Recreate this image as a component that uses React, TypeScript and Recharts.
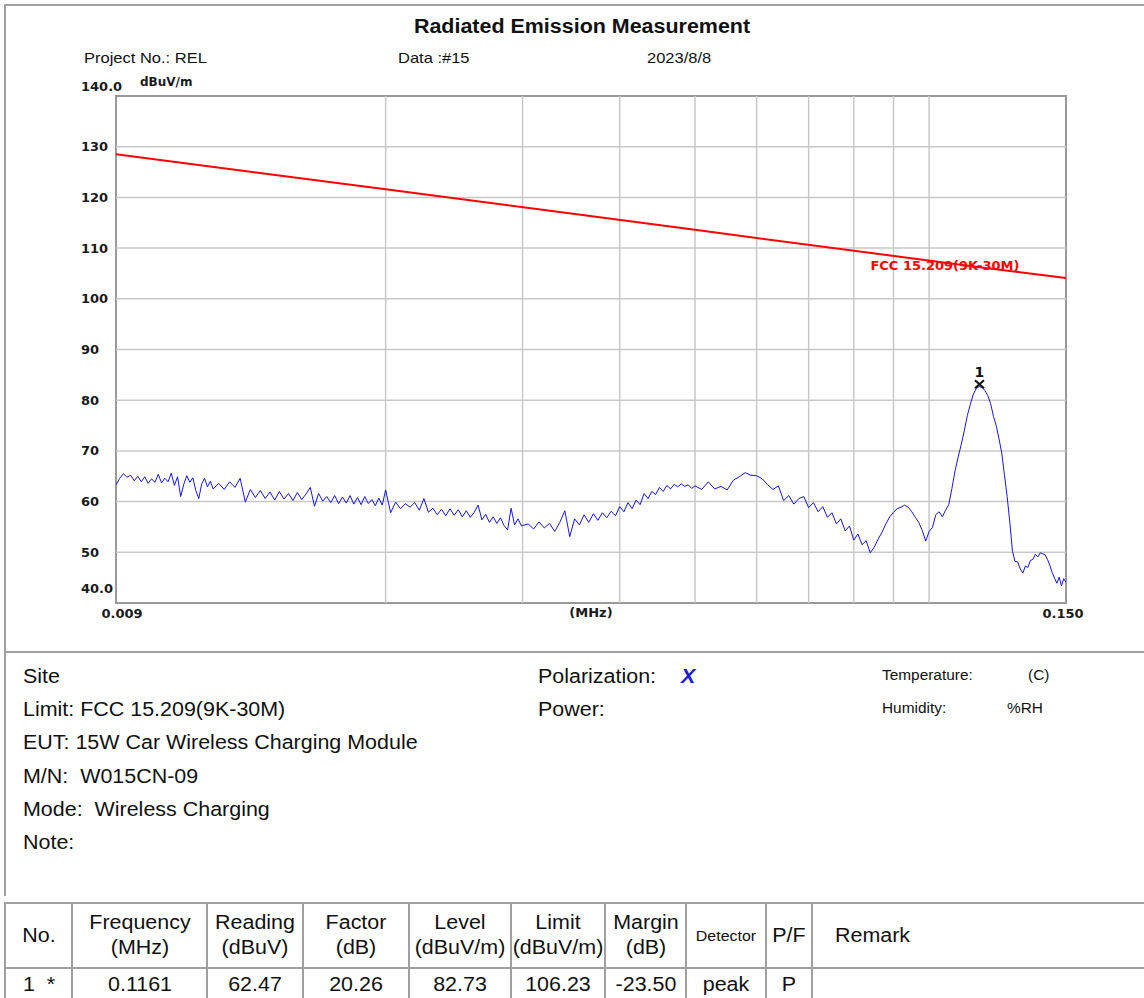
import React from 'react';
import {
  ComposedChart,
  Line,
  Scatter,
  XAxis,
  YAxis,
  ReferenceLine,
  ReferenceArea,
  ReferenceDot,
  Label,
} from 'recharts';

// sweep readings [MHz, dBuV/m]
const trace9to12k = [
  [0.009, 63.3], [0.0091, 64.6], [0.0092, 65.5], [0.0093, 64.8], [0.0094, 65.2], [0.0095, 64.1],
  [0.0096, 65.0], [0.0097, 63.9], [0.0098, 64.9], [0.0099, 63.6], [0.01, 64.5], [0.0101, 63.8],
  [0.0102, 65.4], [0.0103, 63.7], [0.0104, 64.6], [0.0105, 63.9], [0.0106, 65.6], [0.0107, 63.2],
  [0.0108, 64.9], [0.0109, 61.0], [0.011, 63.4], [0.0111, 65.1], [0.0112, 63.8], [0.0113, 64.7],
  [0.0114, 62.2], [0.0115, 60.6], [0.0116, 63.5], [0.0117, 64.6], [0.0118, 62.9], [0.0119, 64.0],
  [0.012, 62.5],
];

const trace12to20k = [
  [0.0122, 63.6], [0.0124, 62.4], [0.0126, 63.9], [0.0128, 62.8], [0.013, 64.6], [0.0132, 59.9],
  [0.0134, 62.4], [0.0136, 60.8], [0.0138, 62.2], [0.014, 60.6], [0.0142, 61.9], [0.0144, 60.3],
  [0.0146, 62.0], [0.0148, 60.5], [0.015, 61.6], [0.0152, 60.2], [0.0154, 61.8], [0.0156, 60.4],
  [0.0158, 61.5], [0.016, 62.8], [0.0162, 59.1], [0.0164, 61.6], [0.0166, 60.1], [0.0168, 61.0],
  [0.017, 59.8], [0.0172, 61.2], [0.0174, 59.6], [0.0176, 60.9], [0.0178, 59.7], [0.018, 61.2],
  [0.0182, 59.5], [0.0184, 60.8], [0.0186, 59.4], [0.0188, 61.0], [0.019, 59.6], [0.0192, 60.4],
  [0.0194, 59.2], [0.0196, 60.7], [0.0198, 59.3], [0.02, 62.3],
];

const trace20to30k = [
  [0.0203, 57.8], [0.0206, 59.9], [0.0209, 58.6], [0.0212, 59.6], [0.0215, 58.9], [0.0218, 59.8],
  [0.0221, 58.3], [0.0224, 60.6], [0.0227, 57.9], [0.023, 58.7], [0.0233, 57.4], [0.0236, 58.5],
  [0.0239, 57.2], [0.0242, 58.6], [0.0245, 57.3], [0.0248, 58.4], [0.0251, 57.0], [0.0254, 58.2],
  [0.0257, 56.9], [0.026, 57.9], [0.0263, 59.3], [0.0266, 56.4], [0.0269, 57.5], [0.0272, 55.9],
  [0.0275, 57.0], [0.0278, 55.7], [0.0281, 56.8], [0.0284, 55.3], [0.0287, 54.4], [0.029, 58.7],
  [0.0293, 55.4], [0.0296, 56.6], [0.0299, 55.2],
];

const trace30to50k = [
  [0.0305, 55.6], [0.031, 54.6], [0.0315, 56.0], [0.032, 54.8], [0.0325, 55.7], [0.033, 54.1],
  [0.0335, 55.9], [0.034, 58.2], [0.0345, 53.1], [0.035, 56.6], [0.0355, 55.4], [0.036, 57.4],
  [0.0365, 55.9], [0.037, 57.6], [0.0375, 56.3], [0.038, 57.8], [0.0385, 56.8], [0.039, 58.1],
  [0.0395, 57.2], [0.04, 59.0], [0.0405, 58.0], [0.041, 59.8], [0.0415, 58.6], [0.042, 60.3],
  [0.0425, 59.4], [0.043, 61.6], [0.0435, 60.6], [0.044, 62.0], [0.0445, 61.4], [0.045, 62.8],
  [0.0455, 62.0], [0.046, 63.2], [0.0465, 62.5], [0.047, 63.4], [0.0475, 62.9], [0.048, 63.5],
  [0.0485, 63.0], [0.049, 63.3], [0.0495, 62.6], [0.05, 63.1],
];

const trace50to100k = [
  [0.051, 62.4], [0.052, 63.9], [0.053, 62.5], [0.054, 63.0], [0.055, 62.3], [0.056, 64.2],
  [0.057, 64.9], [0.058, 65.7], [0.059, 65.2], [0.06, 65.1], [0.061, 64.5], [0.062, 63.3],
  [0.063, 62.4], [0.064, 63.1], [0.065, 60.2], [0.066, 61.2], [0.067, 59.5], [0.068, 60.6],
  [0.069, 61.0], [0.07, 58.8], [0.071, 59.8], [0.072, 58.0], [0.073, 59.0], [0.074, 56.9],
  [0.075, 57.8], [0.076, 55.6], [0.077, 56.6], [0.078, 54.2], [0.079, 55.2], [0.08, 52.4],
  [0.081, 53.6], [0.082, 51.5], [0.083, 52.3], [0.084, 49.9], [0.085, 51.0], [0.086, 52.6],
  [0.087, 54.0], [0.088, 55.6], [0.089, 57.0], [0.09, 57.9], [0.091, 58.6], [0.092, 58.9],
  [0.093, 59.3], [0.094, 58.9], [0.095, 58.0], [0.096, 56.9], [0.097, 55.9], [0.098, 54.3],
  [0.099, 52.2], [0.1, 54.1],
];

const trace100to150k = [
  [0.101, 54.9], [0.102, 57.4], [0.103, 58.0], [0.104, 57.0], [0.105, 58.3], [0.106, 59.4],
  [0.107, 62.6], [0.108, 66.1], [0.109, 68.8], [0.11, 71.3], [0.111, 74.0], [0.112, 77.0],
  [0.113, 79.2], [0.114, 81.2], [0.115, 82.3], [0.116, 82.7], [0.117, 82.5], [0.118, 81.9],
  [0.119, 80.9], [0.12, 79.3], [0.121, 76.8], [0.122, 75.0], [0.123, 72.4], [0.124, 69.6],
  [0.125, 65.3], [0.126, 61.0], [0.127, 56.0], [0.128, 50.2], [0.129, 48.2], [0.13, 48.1],
  [0.131, 46.7], [0.132, 45.9], [0.133, 47.3], [0.134, 47.0], [0.135, 48.4], [0.136, 48.6],
  [0.137, 49.6], [0.138, 49.1], [0.139, 49.9], [0.14, 49.7], [0.141, 49.5], [0.142, 48.6],
  [0.143, 47.4], [0.144, 46.0], [0.145, 44.9], [0.146, 43.9], [0.147, 45.1], [0.148, 43.4],
  [0.149, 44.8], [0.15, 44.1],
];

// FCC 15.209 limit, straight on a log axis
const limitPoints = [[0.009, 128.5], [0.02, 121.6], [0.05, 113.6], [0.1161, 106.23], [0.15, 104.1]];

const markerPoints = [[0.1161, 82.73]];

const gridFreqs = [0.02, 0.03, 0.04, 0.05, 0.06, 0.07, 0.08, 0.09, 0.1];
const gridLevels = [50, 60, 70, 80, 90, 100, 110, 120, 130];
const yTicks = [40, 50, 60, 70, 80, 90, 100, 110, 120, 130, 140];
const xTicks = [0.009, 0.15];
const limitName = 'FCC 15.209(9K-30M)';

const infoLeft = [
  'Site',
  'Limit: FCC 15.209(9K-30M)',
  'EUT: 15W Car Wireless Charging Module',
  'M/N:  W015CN-09',
  'Mode:  Wireless Charging',
  'Note:',
];

const colEdges = [5, 72, 207, 303, 409, 511, 605, 686, 766, 812, 1160];
const headers = [
  ['No.'],
  ['Frequency', '(MHz)'],
  ['Reading', '(dBuV)'],
  ['Factor', '(dB)'],
  ['Level', '(dBuV/m)'],
  ['Limit', '(dBuV/m)'],
  ['Margin', '(dB)'],
  ['Detector'],
  ['P/F'],
  ['Remark'],
];
const row1 = ['1  *', '0.1161', '62.47', '20.26', '82.73', '106.23', '-23.50', 'peak', 'P', ''];

const toRows = (pts: number[][]) => pts.map(([f, v]) => ({ f, v }));
const trace = toRows([
  ...trace9to12k,
  ...trace12to20k,
  ...trace20to30k,
  ...trace30to50k,
  ...trace50to100k,
  ...trace100to150k,
]);
const limit = toRows(limitPoints);
const markers = toRows(markerPoints);

const AXIS_FONT = '"DejaVu Sans", Verdana, sans-serif';
const SANS = '"Liberation Sans", Arial, sans-serif';

function YTick(props: any) {
  const { x, y, payload } = props;
  const v = payload.value;
  const label = v === 140 ? '140.0' : v === 40 ? '40.0' : String(v);
  const dy = v === 140 ? -10 : v === 40 ? -15 : 0;
  return (
    <text x={x} y={y + dy} textAnchor="start" dominantBaseline="central"
      fontFamily={AXIS_FONT} fontWeight="bold" fontSize={13} fill="#1a1a1a">
      {label}
    </text>
  );
}

function XTick(props: any) {
  const { x, y, payload } = props;
  const v = payload.value;
  const label = v < 0.01 ? '0.009' : '0.150';
  return (
    <text x={x + (v < 0.01 ? 6 : -3)} y={y} textAnchor="middle" dominantBaseline="central"
      fontFamily={AXIS_FONT} fontWeight="bold" fontSize={13} fill="#1a1a1a">
      {label}
    </text>
  );
}

function MarkerShape(props: any) {
  const { cx, cy } = props;
  return (
    <g>
      <path d={`M${cx - 4.5},${cy - 6} L${cx + 4.5},${cy + 2} M${cx + 4.5},${cy - 6} L${cx - 4.5},${cy + 2}`}
        stroke="#111" strokeWidth={2} fill="none" />
      <text x={cx} y={cy - 14} textAnchor="middle" dominantBaseline="central"
        fontFamily={AXIS_FONT} fontWeight="bold" fontSize={14} fill="#111">1</text>
    </g>
  );
}

type TxtProps = {
  x: number;
  y: number;
  size: number;
  children: React.ReactNode;
  center?: boolean;
  bold?: boolean;
  italic?: boolean;
  color?: string;
};

function Txt({ x, y, size, children, center, bold, italic, color }: TxtProps) {
  return (
    <div
      style={{
        position: 'absolute',
        left: x,
        top: y,
        fontSize: size,
        lineHeight: 1,
        whiteSpace: 'pre',
        fontWeight: bold ? 'bold' : 'normal',
        fontStyle: italic ? 'italic' : 'normal',
        color: color || '#111',
        transform: `translate(${center ? '-50%' : '0'}, -50%) scaleX(1.1)`,
        transformOrigin: center ? 'center' : 'left center',
      }}
    >
      {children}
    </div>
  );
}

const line = (left: number, top: number, width: number, height: number, color = '#a0a0a0') => (
  <div style={{ position: 'absolute', left, top, width, height, background: color }} />
);

export default function App() {
  return (
    <div
      style={{
        position: 'absolute',
        left: 0,
        top: 0,
        width: 1144,
        height: 998,
        background: '#fff',
        overflow: 'hidden',
        fontFamily: SANS,
      }}
    >
      {/* report frame */}
      {line(4, 4, 1140, 2)}
      {line(4, 4, 2, 892)}
      {line(4, 651, 1140, 2)}

      <Txt x={582} y={27} size={19.5} center bold>Radiated Emission Measurement</Txt>
      <Txt x={84} y={57} size={15}>Project No.: REL</Txt>
      <Txt x={398} y={57} size={15}>Data :#15</Txt>
      <Txt x={647} y={57} size={15}>2023/8/8</Txt>
      <div style={{ position: 'absolute', left: 140, top: 76, fontFamily: AXIS_FONT, fontWeight: 'bold', fontSize: 12, lineHeight: 1, color: '#1a1a1a' }}>
        dBuV/m
      </div>

      <div style={{ position: 'absolute', left: 0, top: 0 }}>
        <ComposedChart width={1144} height={640} margin={{ top: 96, right: 78, bottom: 7, left: 56 }}>
          <XAxis type="number" dataKey="f" scale="log" domain={[0.009, 0.15]} allowDataOverflow
            ticks={xTicks} interval={0} tick={(p: any) => <XTick {...p} />} tickLine={false}
            axisLine={false} tickSize={0} tickMargin={10} height={30}>
            <Label value="(MHz)" position="insideTop" offset={5} fontFamily={AXIS_FONT}
              fontWeight="bold" fontSize={13} fill="#1a1a1a" />
          </XAxis>
          <YAxis type="number" domain={[40, 140]} allowDataOverflow ticks={yTicks} interval={0}
            tick={(p: any) => <YTick {...p} />} tickLine={false} axisLine={false} tickSize={0}
            tickMargin={35} width={60} />
          {gridFreqs.map((f) => (
            <ReferenceLine key={`gx${f}`} x={f} stroke="#c8c8c8" strokeWidth={1.5} />
          ))}
          {gridLevels.map((v) => (
            <ReferenceLine key={`gy${v}`} y={v} stroke="#c8c8c8" strokeWidth={1.5} />
          ))}
          <ReferenceArea x1={0.009} x2={0.15} y1={40} y2={140} fill="none" fillOpacity={0}
            stroke="#999" strokeWidth={2} />
          <Line data={limit} dataKey="v" stroke="#ff0000" strokeWidth={2} dot={false}
            isAnimationActive={false} />
          <Line data={trace} dataKey="v" stroke="#1414f0" strokeWidth={1} dot={false}
            isAnimationActive={false} />
          <Scatter data={markers} dataKey="v" shape={(p: any) => <MarkerShape {...p} />}
            isAnimationActive={false} />
          <ReferenceDot x={0.1048} y={106.6} r={0} fill="none" stroke="none"
            label={{ value: limitName, position: 'center', fill: '#ff0000', fontSize: 13,
              fontWeight: 'bold', fontFamily: AXIS_FONT }} />
        </ComposedChart>
      </div>

      {/* test info */}
      {infoLeft.map((t, i) => (
        <Txt key={t} x={23} y={677 + i * 33.2} size={19.5}>{t}</Txt>
      ))}
      <Txt x={538} y={677} size={19.5}>Polarization:</Txt>
      <Txt x={681} y={677} size={19.5} bold italic color="#1a1ae0">X</Txt>
      <Txt x={538} y={710} size={19.5}>Power:</Txt>
      <Txt x={882} y={675} size={14}>Temperature:</Txt>
      <Txt x={1028} y={675} size={14}>(C)</Txt>
      <Txt x={882} y={708} size={14}>Humidity:</Txt>
      <Txt x={1007} y={708} size={14}>%RH</Txt>

      {/* result table */}
      {line(5, 902, 1139, 1.5)}
      {line(5, 967, 1139, 1.5)}
      {colEdges.slice(0, -1).map((x) => (
        <React.Fragment key={`c${x}`}>{line(x - 0.75, 902, 1.5, 100)}</React.Fragment>
      ))}
      {headers.map((h, i) => {
        const left = colEdges[i];
        const w = colEdges[i + 1] - left;
        const isRemark = h[0] === 'Remark';
        const isDetector = h[0] === 'Detector';
        const cx = isRemark ? 835 : left + w / 2;
        return (
          <React.Fragment key={h[0]}>
            {h.length === 1 ? (
              <Txt x={cx} y={936} size={isDetector ? 14.5 : 19.5} center={!isRemark}>{h[0]}</Txt>
            ) : (
              <>
                <Txt x={cx} y={923} size={19.5} center>{h[0]}</Txt>
                <Txt x={cx} y={948} size={19.5} center>{h[1]}</Txt>
              </>
            )}
            {row1[i] ? <Txt x={cx} y={985} size={19.5} center>{row1[i]}</Txt> : null}
          </React.Fragment>
        );
      })}
    </div>
  );
}
